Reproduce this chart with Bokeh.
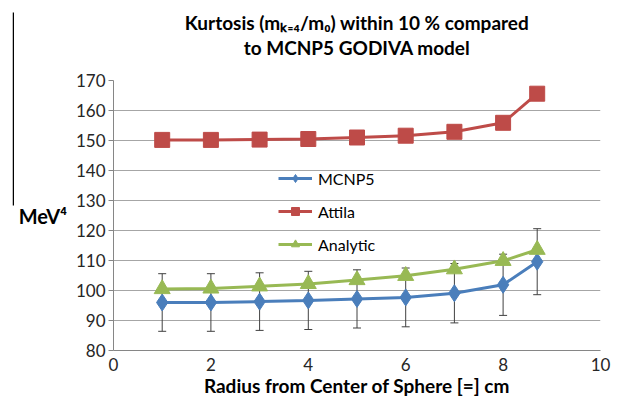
from bokeh.plotting import figure
from bokeh.layouts import row, column
from bokeh.models import Range1d, Whisker, ColumnDataSource, FixedTicker, Legend, TeeHead, Label, BoxAnnotation
from bokeh.embed import file_html
from bokeh.resources import INLINE

radius = [1, 2, 3, 4, 5, 6, 7, 8, 8.7]
mcnp5 = [96.0, 96.0, 96.3, 96.7, 97.2, 97.7, 99.1, 101.9, 109.6]
mcnp5_err = [9.6, 9.6, 9.6, 9.7, 9.7, 9.8, 9.9, 10.2, 11.0]
attila = [150.2, 150.2, 150.3, 150.5, 151.0, 151.6, 152.9, 155.9, 165.6]
analytic = [100.5, 100.7, 101.4, 102.2, 103.5, 104.9, 107.1, 109.9, 113.6]

x_ticks = [0, 2, 4, 6, 8, 10]
y_ticks = [80, 90, 100, 110, 120, 130, 140, 150, 160, 170]
title_lines = ["Kurtosis (m\u2096\u208c\u2084/m\u2080) within 10 % compared", "to MCNP5 GODIVA model"]

FONT = "Lato"
BLUE = "#4a7ebb"
RED = "#be4b48"
GREEN = "#98b954"


def bare(fig):
    fig.frame_align = False
    fig.outline_line_color = None
    fig.grid.visible = False
    fig.background_fill_color = "white"
    fig.border_fill_color = "white"
    return fig


# narrow strip on the far left holding the thin vertical rule (pixel coordinates)
strip = bare(figure(width=14, height=400, output_backend="svg", toolbar_location=None,
                    x_range=Range1d(0, 14), y_range=Range1d(400, 0),
                    min_border=0, x_axis_type=None, y_axis_type=None))
strip.add_layout(BoxAnnotation(left=12.25, right=13.75, top=12, bottom=205,
                               fill_color="black", fill_alpha=1, line_color=None))

# header holding the two centred title lines (pixel coordinates)
header = bare(figure(width=605, height=70, output_backend="svg", toolbar_location=None,
                     x_range=Range1d(0, 605), y_range=Range1d(70, 0),
                     min_border=0, x_axis_type=None, y_axis_type=None))
for txt, yy in zip(title_lines, [22, 47]):
    header.add_layout(Label(x=342.5, y=yy, text=txt, text_align="center", text_baseline="middle",
                            text_font=FONT, text_font_size="19px", text_font_style="bold",
                            text_color="#000000"))

p = figure(width=605, height=330, output_backend="svg", toolbar_location=None,
           x_range=Range1d(0, 10), y_range=Range1d(80, 170),
           min_border_left=99, min_border_right=19, min_border_top=10, min_border_bottom=50)
p.title.visible = False
p.outline_line_color = None
p.background_fill_color = "white"
p.border_fill_color = "white"

p.xaxis.ticker = FixedTicker(ticks=x_ticks)
p.yaxis.ticker = FixedTicker(ticks=y_ticks)
p.xgrid.visible = False
p.ygrid.ticker = FixedTicker(ticks=y_ticks)
p.ygrid.grid_line_color = "#a6a6a6"
p.ygrid.grid_line_width = 1

for ax in (p.xaxis[0], p.yaxis[0]):
    ax.axis_line_color = "#868686"
    ax.major_tick_line_color = "#868686"
    ax.minor_tick_line_color = None
    ax.major_label_text_font = FONT
    ax.major_label_text_font_size = "17px"
    ax.major_label_text_color = "#262626"
    ax.axis_label_text_font = FONT
    ax.axis_label_text_font_style = "bold"
    ax.axis_label_text_font_size = "19px"
    ax.axis_label_text_color = "#000000"

p.yaxis.axis_label_text_font_size = "20px"
p.yaxis.major_tick_out = 5
p.yaxis.major_tick_in = 0
p.xaxis.major_tick_out = 0
p.xaxis.major_tick_in = 0
p.yaxis.major_label_standoff = 3
p.xaxis.major_label_standoff = 7

p.xaxis.axis_label = "Radius from Center of Sphere [=] cm"
p.xaxis.axis_label_standoff = 0
p.yaxis.axis_label = "MeV\u2074"
p.yaxis.axis_label_orientation = "horizontal"
p.yaxis.axis_label_standoff = 6

src = ColumnDataSource(dict(x=radius, m=mcnp5,
                            lo=[m - e for m, e in zip(mcnp5, mcnp5_err)],
                            hi=[m + e for m, e in zip(mcnp5, mcnp5_err)],
                            a=attila, an=analytic))

l1 = p.line("x", "m", source=src, line_color=BLUE, line_width=3)
s1 = p.scatter("x", "m", source=src, marker="diamond", size=17, color=BLUE)
l2 = p.line("x", "a", source=src, line_color=RED, line_width=3)
s2 = p.scatter("x", "a", source=src, marker="square", size=15, color=RED)
l3 = p.line("x", "an", source=src, line_color=GREEN, line_width=3)
s3 = p.scatter("x", "an", source=src, marker="triangle", size=16, color=GREEN)

w = Whisker(base="x", lower="lo", upper="hi", source=src,
            line_color="#404040", line_width=1,
            upper_head=TeeHead(size=8, line_color="#404040", line_width=1),
            lower_head=TeeHead(size=8, line_color="#404040", line_width=1))
p.add_layout(w)

legend = Legend(items=[("MCNP5", [l1, s1]), ("Attila", [l2, s2]), ("Analytic", [l3, s3])],
                location=(165, 96))
legend.background_fill_alpha = 0
legend.border_line_color = None
legend.label_text_font = FONT
legend.label_text_font_size = "16px"
legend.label_text_color = "#000000"
legend.glyph_width = 34
legend.glyph_height = 20
legend.spacing = 13
legend.padding = 0
legend.margin = 0
legend.label_standoff = 6
p.add_layout(legend, "center")

layout = row(strip, column(header, p, spacing=0), spacing=0)
open("out.html", "w").write(file_html(layout, INLINE))
